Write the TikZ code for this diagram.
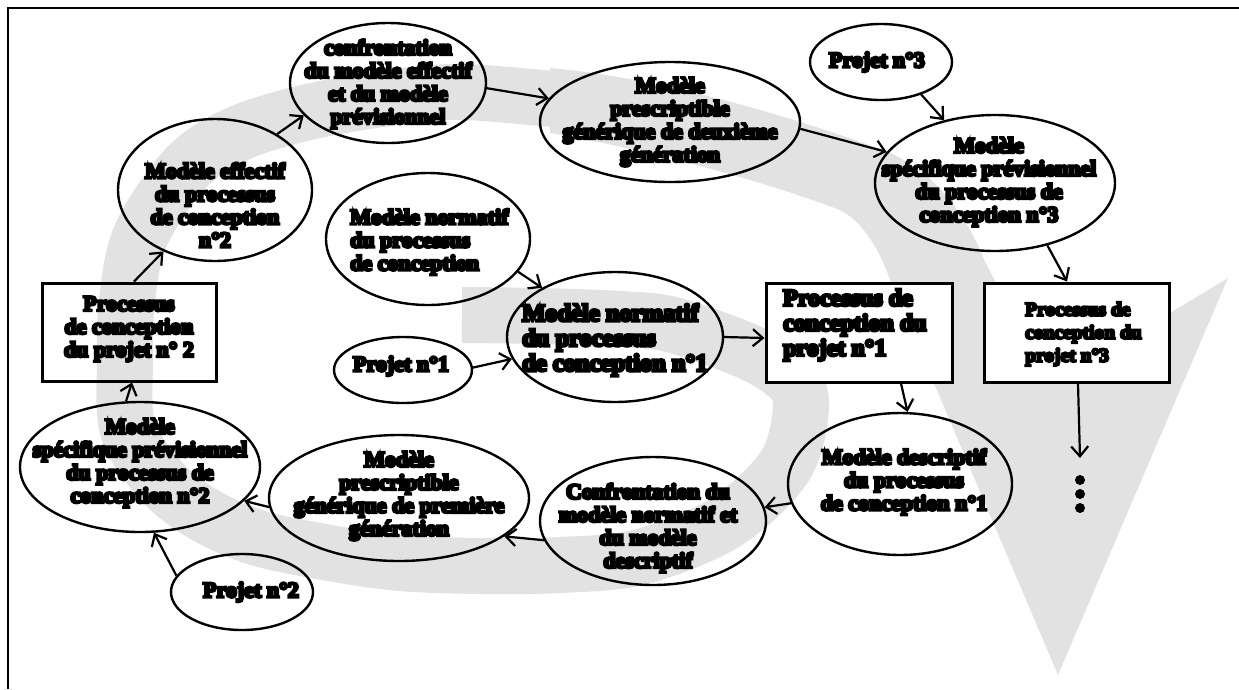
\documentclass[tikz,border=0pt]{standalone}
\usepackage{fontspec}
\newfontfamily\hv{Liberation Serif}[UprightFont={* Bold}, UprightFeatures={FakeBold=12}]
\usetikzlibrary{arrows.meta,shapes.geometric,calc}
\definecolor{lg}{RGB}{226,226,226}
\tikzset{
  ell/.style={draw, ellipse, line width=2.4pt, inner sep=0pt},
  boxw/.style={draw, rectangle, line width=3pt, inner sep=0pt, fill=white},
  boxt/.style={draw, rectangle, line width=3pt, inner sep=0pt},
  txt/.style={font=\hv\fontsize{22}{23}\selectfont, align=center, inner sep=0pt},
  txtl/.style={txt, align=left},
  arr/.style={line width=2.2pt, -{Straight Barb[length=10pt,width=17pt]}},
  dotn/.style={circle, fill=black, inner sep=0pt, minimum size=10pt}
}
\begin{document}
\begin{tikzpicture}[x=1pt,y=-1pt]
\useasboundingbox (0,0) rectangle (1239,689);
% grey logo
\fill[lg] (550,68) .. controls (640,76) and (760,105) .. (883,150)
  .. controls (930,168) and (965,210) .. (985,262) -- (1000,290) -- (1040,350)
  .. controls (1090,345) and (1140,330) .. (1170,313) -- (1228,278) -- (1058,675) -- (890,280)
  .. controls (878,245) and (860,220) .. (840,210)
  .. controls (760,180) and (650,150) .. (550,133) -- cycle;
\draw[lg, line width=56pt, line cap=butt] plot[smooth, tension=0.55] coordinates {
 (600,104) (520,96) (450,92) (375,100) (300,114) (235,135) (186,168) (141,235) (127,300)
 (125,360) (128,430) (163,483) (205,515) (258,538) (330,553) (400,563) (480,566) (560,565)
 (640,557) (726,522) (785,466) (801,407) (790,378) (749,352) (673,325) (620,319) (540,316) (462,315)};
% frame
\draw[line width=2.5pt] (8,689) -- (8,8) -- (1239,8);
% ellipses
\node[ell, minimum width=196pt, minimum height=120pt] (conf2) at (388,83) {};
\node[ell, minimum width=194pt, minimum height=142pt] (eff2) at (215,190) {};
\node[ell, minimum width=260pt, minimum height=120pt] (presc2) at (670,122) {};
\node[ell, minimum width=142pt, minimum height=76pt] (proj3) at (881,62) {};
\node[ell, minimum width=240pt, minimum height=136pt] (spec3) at (995,183) {};
\node[ell, minimum width=204pt, minimum height=132pt] (normA) at (428,239) {};
\node[ell, minimum width=216pt, minimum height=130pt] (normN1) at (615,337) {};
\node[ell, minimum width=138pt, minimum height=66pt] (proj1) at (403,370) {};
\node[ell, minimum width=224pt, minimum height=142pt] (desc) at (900,484) {};
\node[ell, minimum width=226pt, minimum height=128pt] (confN) at (653,521) {};
\node[ell, minimum width=260pt, minimum height=126pt] (presc1) at (399,498) {};
\node[ell, minimum width=240pt, minimum height=130pt] (spec2) at (140,467) {};
\node[ell, minimum width=142pt, minimum height=76pt] (proj2) at (242,592) {};
% boxes
\node[boxw, minimum width=186pt, minimum height=99pt] (box1) at (859,332.5) {};
\node[boxw, minimum width=185pt, minimum height=99pt] (box3) at (1076.5,332.5) {};
\node[boxt, minimum width=174pt, minimum height=98pt] (box2) at (129,332) {};
% texts
\node[txt] (conf2t) at (388,84) {confrontation\\du modèle effectif\\et du modèle\\prévisionnel};
\node[txt] (eff2t) at (215,205) {Modèle effectif\\du processus\\de conception\\n°2};
\node[txt] (presc2t) at (670,122) {Modèle\\prescriptible\\générique de deuxième\\génération};
\node[txt] (proj3t) at (877,62) {Projet n°3};
\node[txt] (spec3t) at (989,182) {Modèle\\spécifique prévisionnel\\du processus de\\conception n°3};
\node[txtl, anchor=west] (normAt) at (350,242) {Modèle normatif\\du processus\\de conception};
\node[txtl, anchor=west, font=\hv\fontsize{24.5}{25}\selectfont] (normN1t) at (522,340) {Modèle normatif\\du processus\\de conception n°1};
\node[txt] (proj1t) at (401,366) {Projet n°1};
\node[txtl, anchor=west, font=\hv\fontsize{24}{25}\selectfont] (box1t) at (783,325) {Processus de\\conception du\\projet n°1};
\node[txtl, anchor=west, font=\hv\fontsize{19.5}{23}\selectfont] (box3t) at (1025,334) {Processus de\\conception du\\projet n°3};
\node[txt] (box2t) at (129,329) {Processus\\de conception\\du projet n° 2};
\node[txt] (desct) at (904,482) {Modèle descriptif\\du processus\\de conception n°1};
\node[txt] (confNt) at (648,528) {Confrontation du\\modèle normatif et\\du modèle\\descriptif};
\node[txt] (presc1t) at (399,496) {Modèle\\prescriptible\\générique de première\\génération};
\node[txt] (spec2t) at (140,463) {Modèle\\spécifique prévisionnel\\du processus de\\conception n°2};
\node[txt] (proj2t) at (251,592) {Projet n°2};
% dots
\coordinate (dotsTop) at (1080,458);
\node[dotn] (d1) at (1080,480) {};
\node[dotn] (d2) at (1080,494) {};
\node[dotn] (d3) at (1080,508) {};
% arrows
\draw[arr] ([xshift=5pt]box2.north) -- (eff2.230);
\draw[arr] (eff2.42) -- (conf2.201);
\draw[arr] (conf2.-3) -- (presc2.169);
\draw[arr] (presc2.-3) -- (spec3.164);
\draw[arr] (proj3.-39) -- (spec3.129);
\draw[arr] (spec3.-50) -- ([xshift=-9.5pt]box3.north);
\draw[arr] (normA.-20) -- (normN1.146);
\draw[arr] (proj1.2) -- (normN1.192);
\draw[arr] (normN1.0) -- ([yshift=-5.5pt]box1.west);
\draw[arr] ([xshift=42pt]box1.south) -- (desc.84);
\draw[arr] (desc.190) -- (confN.7);
\draw[arr] (confN.190) -- (presc1.-20);
\draw[arr] (presc1.184) -- (spec2.-18);
\draw[arr] (proj2.166) -- (spec2.-78);
\draw[arr] (spec2.102) -- ([xshift=3pt]box2.south);
\draw[arr] ([xshift=1.5pt]box3.south) -- (dotsTop);
\end{tikzpicture}
\end{document}
